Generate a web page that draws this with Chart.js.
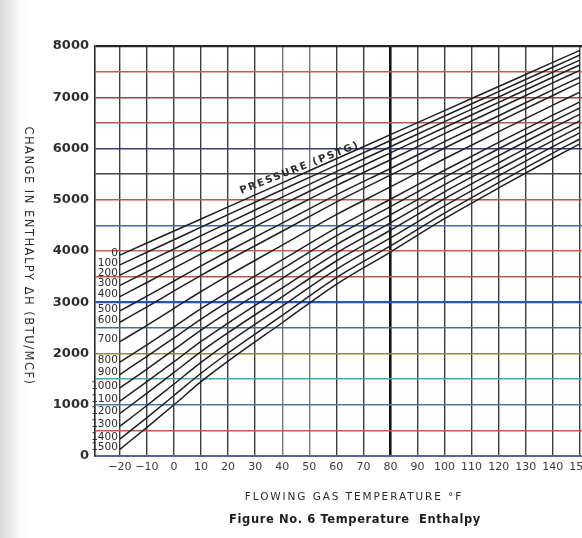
<!DOCTYPE html>
<html>
<head>
<meta charset="utf-8">
<title>Temperature Enthalpy</title>
<script src="https://cdn.jsdelivr.net/npm/chart.js@4/dist/chart.umd.min.js"></script>
<style>
  html, body { margin: 0; padding: 0; overflow: hidden; }
  body {
    width: 582px; height: 538px;
    background: linear-gradient(to right, #d6d6d8 0px, #e4e4e6 7px, #f1f1f2 14px, #fbfbfb 20px, #ffffff 28px);
  }
  canvas { display: block; }
</style>
</head>
<body>
<canvas id="chart" width="620" height="538"></canvas>
<script>
// Flowing gas temperature (°F) at which each pressure curve is sampled
const temperatures = [-20, -10, 0, 10, 20, 40, 60, 80, 100, 120, 140, 150];

// Line pressures (PSIG), one curve each
const pressures = [0, 100, 200, 300, 400, 500, 600, 700, 800, 900, 1000, 1100, 1200, 1300, 1400, 1500];

// Change in enthalpy ΔH (BTU/MCF) along each pressure curve
const dh0    = [3920, 4155, 4390, 4625, 4860, 5330, 5800, 6270, 6740, 7210, 7680, 7915];
const dh100  = [3730, 3975, 4220, 4465, 4710, 5195, 5675, 6155, 6635, 7110, 7585, 7825];
const dh200  = [3530, 3785, 4040, 4300, 4550, 5050, 5550, 6035, 6525, 7005, 7490, 7725];
const dh300  = [3330, 3595, 3865, 4130, 4390, 4905, 5420, 5915, 6410, 6900, 7390, 7630];
const dh400  = [3110, 3385, 3665, 3945, 4215, 4745, 5275, 5780, 6290, 6785, 7280, 7525];
const dh500  = [2830, 3120, 3415, 3710, 3995, 4545, 5095, 5610, 6135, 6640, 7145, 7390];
const dh600  = [2610, 2910, 3220, 3525, 3820, 4385, 4955, 5480, 6010, 6525, 7035, 7285];
const dh700  = [2230, 2550, 2880, 3210, 3520, 4115, 4710, 5250, 5800, 6330, 6845, 7100];
const dh800  = [1830, 2170, 2520, 2875, 3200, 3825, 4450, 5010, 5575, 6120, 6650, 6910];
const dh900  = [1590, 1945, 2305, 2670, 3010, 3650, 4295, 4865, 5440, 5995, 6530, 6790];
const dh1000 = [1330, 1695, 2075, 2455, 2805, 3465, 4125, 4705, 5295, 5860, 6405, 6665];
const dh1100 = [1070, 1450, 1840, 2235, 2595, 3280, 3960, 4550, 5155, 5720, 6275, 6540];
const dh1200 = [ 830, 1225, 1630, 2035, 2405, 3105, 3805, 4405, 5020, 5595, 6155, 6425];
const dh1300 = [ 580,  985, 1405, 1825, 2210, 2925, 3640, 4255, 4880, 5465, 6035, 6305];
const dh1400 = [ 330,  750, 1180, 1615, 2010, 2745, 3480, 4100, 4740, 5335, 5910, 6185];
const dh1500 = [ 130,  560, 1000, 1450, 1850, 2600, 3350, 3980, 4630, 5230, 5810, 6090];

// Axis ticks
const temperatureTicks = [-20, -10, 0, 10, 20, 30, 40, 50, 60, 70, 80, 90, 100, 110, 120, 130, 140, 150];
const enthalpyGrid = [0, 500, 1000, 1500, 2000, 2500, 3000, 3500, 4000, 4500, 5000, 5500, 6000, 6500, 7000, 7500, 8000];
const enthalpyLabels = [0, 1000, 2000, 3000, 4000, 5000, 6000, 7000, 8000];

const curves = [dh0, dh100, dh200, dh300, dh400, dh500, dh600, dh700,
                dh800, dh900, dh1000, dh1100, dh1200, dh1300, dh1400, dh1500];

// Printed grid: horizontal rules alternate between red, blue and dark inks
const rowInk = {
  0: '#5261a0', 500: '#c25a52', 1000: '#5274a8', 1500: '#4aa6b4', 2000: '#8e8a4a',
  2500: '#47728f', 3000: '#2552c0', 3500: '#bb5555', 4000: '#c4644c', 4500: '#4a66a5',
  5000: '#c25548', 5500: '#45454f', 6000: '#34406e', 6500: '#b2585e', 7000: '#904848',
  7500: '#c65c4e', 8000: '#262626'
};
const colInk = v => v === 80 ? '#151515' : (v === 40 || v === 50 ? '#767676' : '#3c3c3c');

const datasets = pressures.map((p, i) => ({
  label: p + ' PSIG',
  data: temperatures.map((t, j) => ({ x: t, y: curves[i][j] })),
  borderColor: '#1f1f1f',
  borderWidth: 1.5,
  pointRadius: 0,
  fill: false,
  cubicInterpolationMode: 'monotone'
}));

const fmtTemp = v => (v < 0 ? '\u2212' + Math.abs(v) : String(v));

// Texts printed on the chart: curve labels, captions and rotated titles
const chartTexts = {
  id: 'chartTexts',
  afterDatasetsDraw(chart) {
    const { ctx, chartArea, scales: { x, y } } = chart;
    ctx.save();
    ctx.fillStyle = '#2a2a2a';

    // pressure labels at the start of each curve
    ctx.font = '10.5px "DejaVu Sans"';
    ctx.textAlign = 'right';
    ctx.textBaseline = 'middle';
    const xStart = x.getPixelForValue(temperatures[0]);
    pressures.forEach((p, i) => {
      ctx.fillText(String(p), xStart - 2, y.getPixelForValue(curves[i][0]) - 2);
    });

    // curve family caption, running along the 0 PSIG curve
    const ax = x.getPixelForValue(46.5), ay = y.getPixelForValue(5620);
    ctx.save();
    ctx.translate(ax, ay);
    ctx.rotate(-21.5 * Math.PI / 180);
    ctx.font = 'bold 10px "DejaVu Sans"';
    ctx.letterSpacing = '1.8px';
    ctx.textAlign = 'center';
    ctx.fillText('PRESSURE (PSTG)', 0, 0);
    ctx.restore();

    // vertical axis title, reading downward
    ctx.save();
    ctx.translate(28, (chartArea.top + chartArea.bottom) / 2 + 5);
    ctx.rotate(Math.PI / 2);
    ctx.font = '11.5px "DejaVu Sans"';
    ctx.letterSpacing = '1.5px';
    ctx.textAlign = 'center';
    ctx.fillText('CHANGE IN ENTHALPY \u0394H (BTU/MCF)', 0, 0);
    ctx.restore();

    // horizontal axis title and figure caption
    ctx.textAlign = 'center';
    ctx.font = '10.5px "DejaVu Sans"';
    ctx.letterSpacing = '1.9px';
    ctx.fillText('FLOWING GAS TEMPERATURE \u00B0F', 354, 497);
    ctx.font = 'bold 11.5px "DejaVu Sans"';
    ctx.letterSpacing = '0.6px';
    ctx.fillStyle = '#1c1c1c';
    ctx.fillText('Figure No. 6 Temperature  Enthalpy', 355, 520);
    ctx.restore();
  }
};

new Chart(document.getElementById('chart'), {
  type: 'line',
  data: { datasets },
  options: {
    responsive: false,
    animation: false,
    events: [],
    layout: { padding: { top: 46, left: 0, right: 0, bottom: 0 }, autoPadding: false },
    plugins: { legend: { display: false }, tooltip: { enabled: false }, title: { display: false } },
    scales: {
      x: {
        type: 'linear',
        min: -29.2,
        max: 164.85,
        afterBuildTicks: s => { s.ticks = temperatureTicks.map(v => ({ value: v })); },
        afterFit: s => { s.height = 82; },
        ticks: {
          autoSkip: false,
          maxRotation: 0,
          padding: 5,
          color: '#3a3a3a',
          font: { family: 'DejaVu Sans', size: 11 },
          callback: v => fmtTemp(v)
        },
        grid: {
          drawTicks: false,
          color: c => colInk(c.tick ? c.tick.value : 0),
          lineWidth: c => (c.tick && c.tick.value === 80 ? 2.6 : 1.4)
        },
        border: { color: '#5565a0', width: 2 }
      },
      y: {
        type: 'linear',
        min: 0,
        max: 8000,
        afterBuildTicks: s => { s.ticks = enthalpyGrid.map(v => ({ value: v })); },
        afterFit: s => { s.width = 95; },
        ticks: {
          autoSkip: false,
          padding: 6,
          color: '#2e2e2e',
          font: { family: 'DejaVu Sans', size: 13, weight: 'bold' },
          callback: v => (enthalpyLabels.includes(v) ? String(v) : '')
        },
        grid: {
          drawTicks: false,
          color: c => rowInk[c.tick ? c.tick.value : 0] || '#444',
          lineWidth: c => (c.tick && (c.tick.value === 3000 || c.tick.value === 8000) ? 2.2 : 1.4)
        },
        border: { color: '#2a2a2a', width: 1.6 }
      }
    }
  },
  plugins: [chartTexts]
});
</script>
</body>
</html>
